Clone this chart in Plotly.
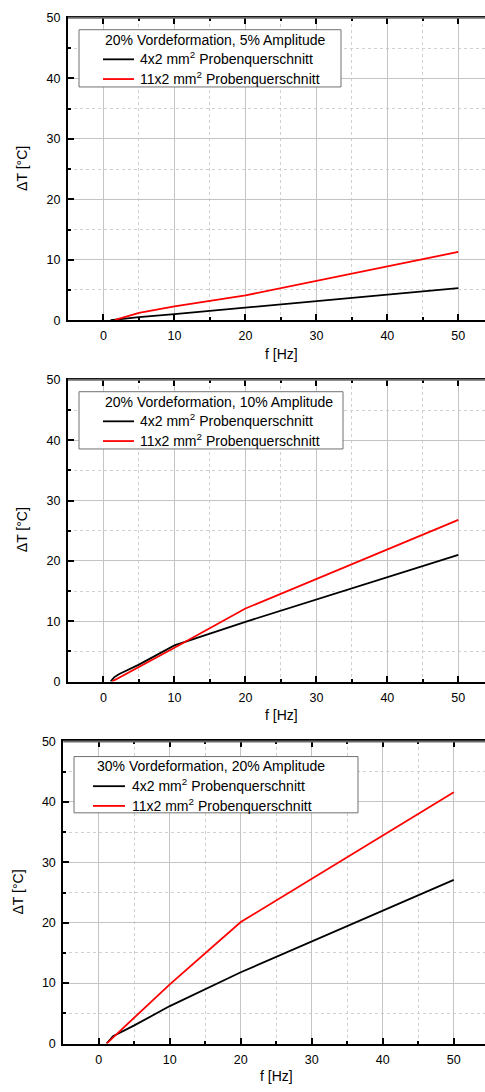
import plotly.graph_objects as go

W, H = 485, 1092

# ---- data ----
titles = ["20% Vordeformation, 5% Amplitude",
          "20% Vordeformation, 10% Amplitude",
          "30% Vordeformation, 20% Amplitude"]
name_black = "4x2 mm<sup>2</sup> Probenquerschnitt"
name_red = "11x2 mm<sup>2</sup> Probenquerschnitt"

f1_black = [1, 2, 5, 10, 20, 50]
dT1_black = [0, 0.15, 0.5, 1.0, 2.1, 5.3]
f1_red = [1.6, 2, 5, 10, 20, 50]
dT1_red = [0, 0.2, 1.2, 2.3, 4.1, 11.3]

f2_black = [1, 1.5, 2, 2.3, 5, 10, 20, 50]
dT2_black = [0, 0.7, 1.1, 1.3, 2.8, 6.0, 9.9, 21.0]
f2_red = [1.2, 2, 5, 10, 20, 50]
dT2_red = [0, 0.5, 2.4, 5.6, 12.1, 26.8]

f3_black = [1.1, 2, 5, 10, 20, 50]
dT3_black = [0, 1.2, 3.0, 6.2, 11.8, 27.1]
f3_red = [1.1, 2, 5, 10, 20, 50]
dT3_red = [0, 1.0, 4.2, 9.8, 20.1, 41.6]

x_ticks = [0, 10, 20, 30, 40, 50]
y_ticks = [0, 10, 20, 30, 40, 50]

series = [(f1_black, dT1_black, f1_red, dT1_red),
          (f2_black, dT2_black, f2_red, dT2_red),
          (f3_black, dT3_black, f3_red, dT3_red)]

# ---- layout geometry (pixels) ----
panels = [
    dict(left=68, top=11, bottom=317.3, xr=[-5, 53.76], xt=(281, 352), yt=(22, 164),
         box=(79, 23, 262, 58), tx=103, ln=(103, 134), lx=138),
    dict(left=68, top=377.7, bottom=683.3, xr=[-5, 53.76], xt=(281, 717), yt=(22, 530),
         box=(79, 389.7, 264, 58), tx=103, ln=(103, 134), lx=138),
    dict(left=63.3, top=744, bottom=1050, xr=[-5, 54.4], xt=(276, 1083), yt=(17, 897),
         box=(74, 759.3, 284, 57), tx=95, ln=(93, 125), lx=130),
]

FONT = "Liberation Sans, Arial, sans-serif"
fig = go.Figure()
layout = dict(width=W, height=H, margin=dict(l=0, r=0, t=0, b=0),
              paper_bgcolor="white", plot_bgcolor="white",
              font=dict(family=FONT, size=12, color="black"),
              showlegend=False, shapes=[], annotations=[])


def px(x):
    return x / W


def py(y):
    return 1 - y / H


for i, (p, (fb, yb, fr, yr)) in enumerate(zip(panels, series)):
    n = "" if i == 0 else str(i + 1)
    xa, ya = "x" + n, "y" + n
    fig.add_trace(go.Scatter(x=fb, y=yb, mode="lines", name=name_black,
                             line=dict(color="black", width=1.8),
                             xaxis=xa, yaxis=ya))
    fig.add_trace(go.Scatter(x=fr, y=yr, mode="lines", name=name_red,
                             line=dict(color="#ff0000", width=1.8),
                             xaxis=xa, yaxis=ya))
    common = dict(showline=True, linecolor="black", linewidth=2,
                  ticks="inside", ticklen=6, tickwidth=2, tickcolor="black",
                  showgrid=True, gridcolor="#c4c4c4", gridwidth=1,
                  zeroline=False, tickfont=dict(size=12.5, family=FONT),
                  minor=dict(dtick=5, ticks="inside", ticklen=3, tickwidth=1.5,
                             tickcolor="black", showgrid=True,
                             gridcolor="#d0d0d0", griddash="dot", gridwidth=1))
    layout["xaxis" + n] = dict(common, domain=[p["left"] / W, 1],
                               range=p["xr"], tickvals=x_ticks, anchor=ya,
                               mirror="ticks", ticklabelstandoff=3)
    layout["yaxis" + n] = dict(common, domain=[py(p["bottom"]), py(p["top"])],
                               range=[0, 50], tickvals=y_ticks, anchor=xa,
                               ticklabelstandoff=3)
    # gray top frame line
    layout["shapes"].append(dict(type="line", xref=xa + " domain", yref=ya + " domain",
                                 x0=0, x1=1, y0=1, y1=1, layer="above",
                                 line=dict(color="#6a6a6a", width=2)))
    # legend box
    bx, by, bw, bh = p["box"]
    layout["shapes"].append(dict(type="rect", xref="paper", yref="paper",
                                 x0=px(bx), x1=px(bx + bw), y0=py(by + bh), y1=py(by),
                                 fillcolor="white", layer="above",
                                 line=dict(color="#707070", width=1)))
    layout["annotations"].append(dict(text=titles[i], xref="paper", yref="paper",
                                      x=px(p["tx"]), y=py(by + 10), xanchor="left",
                                      yanchor="middle", showarrow=False,
                                      font=dict(size=14, family=FONT)))
    for k, (nm, col) in enumerate([(name_black, "black"), (name_red, "#ff0000")]):
        yc = by + 30 + 20 * k
        layout["shapes"].append(dict(type="line", xref="paper", yref="paper",
                                     x0=px(p["ln"][0]), x1=px(p["ln"][1]),
                                     y0=py(yc), y1=py(yc), layer="above",
                                     line=dict(color=col, width=1.8)))
        layout["annotations"].append(dict(text=nm, xref="paper", yref="paper",
                                          x=px(p["lx"]), y=py(yc - 1), xanchor="left",
                                          yanchor="middle", showarrow=False,
                                          font=dict(size=14, family=FONT)))
    layout["annotations"].append(dict(text="f [Hz]", xref="paper", yref="paper",
                                      x=px(p["xt"][0]), y=py(p["xt"][1]),
                                      xanchor="center", yanchor="middle", showarrow=False,
                                      font=dict(size=14, family=FONT)))
    layout["annotations"].append(dict(text="ΔT [°C]", xref="paper", yref="paper",
                                      x=px(p["yt"][0]), y=py(p["yt"][1]), textangle=-90,
                                      xanchor="center", yanchor="middle", showarrow=False,
                                      font=dict(size=14, family=FONT)))

fig.update_layout(**layout)
fig.write_html("out.html", config={"displayModeBar": False},
               post_script="document.body.style.margin='0';document.body.style.overflow='hidden';")
